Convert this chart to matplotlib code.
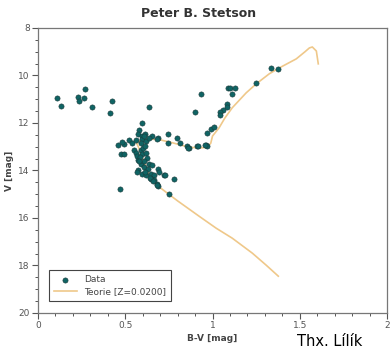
import matplotlib
matplotlib.use("Agg")
import matplotlib.pyplot as plt
from matplotlib.ticker import MultipleLocator

# Données (B-V, V)
bv_data = [0.109, 0.132, 0.230, 0.236, 0.264, 0.270, 0.310, 0.425, 0.414, 0.638,
           0.935, 0.901, 1.090, 1.102, 1.130, 1.113, 1.084, 1.084, 1.061, 1.044, 1.044,
           1.251, 1.337, 1.377,
           0.597, 0.579, 0.574, 0.614, 0.597, 0.654, 0.688, 0.746, 0.797, 0.815, 0.746,
           0.855, 0.866, 0.912, 0.964, 0.970, 0.970, 0.993, 1.010,
           0.459, 0.493, 0.482, 0.522, 0.539, 0.562, 0.597, 0.591, 0.620, 0.608,
           0.476, 0.493, 0.551, 0.562, 0.568, 0.591, 0.597, 0.620, 0.625,
           0.574, 0.591, 0.608, 0.637, 0.654, 0.688, 0.574, 0.597, 0.620, 0.648, 0.666,
           0.694, 0.723, 0.648, 0.666, 0.683, 0.688, 0.780, 0.470, 0.752, 0.729, 0.568,
           0.683, 0.861, 0.918, 0.958, 0.637, 0.683,
           0.585, 0.605, 0.630, 0.600, 0.615, 0.640, 0.660, 0.580, 0.612]
v_data = [10.94, 11.27, 10.90, 11.06, 10.94, 10.56, 11.31, 11.06, 11.57, 11.31,
          10.77, 11.52, 10.52, 10.52, 10.52, 10.77, 11.19, 11.31, 11.44, 11.52, 11.65,
          10.31, 9.68, 9.72,
          11.99, 12.28, 12.45, 12.45, 12.53, 12.53, 12.62, 12.45, 12.62, 12.83, 12.83,
          12.99, 13.04, 12.95, 12.91, 12.95, 12.41, 12.24, 12.15,
          12.91, 12.87, 12.78, 12.70, 12.83, 12.70, 12.66, 12.83, 12.74, 12.53,
          13.29, 13.29, 13.12, 13.25, 13.37, 13.12, 13.29, 13.25, 13.46,
          13.54, 13.71, 13.58, 13.71, 13.75, 13.92, 14.00, 14.13, 14.17, 14.13, 14.21,
          14.08, 14.21, 14.34, 14.42, 14.55, 14.67, 14.34, 14.76, 15.01, 14.21, 14.08,
          14.63, 13.04, 12.99, 12.91, 12.62, 12.66,
          13.45, 13.85, 13.95, 13.05, 12.95, 14.30, 14.45, 13.60, 14.05]

# Isochrone théorique
bv_theo = [1.377, 1.308, 1.228, 1.113, 1.021, 0.924, 0.800, 0.683, 0.640, 0.610,
           0.590, 0.575, 0.565, 0.600, 0.694, 0.769, 0.866, 0.930, 0.970, 0.990,
           1.000, 1.038, 1.070, 1.113, 1.193, 1.251, 1.325, 1.383, 1.480, 1.530,
           1.555, 1.572, 1.595, 1.606]
v_theo = [18.45, 17.99, 17.48, 16.85, 16.43, 15.93, 15.28, 14.63, 14.20, 13.70,
          13.30, 13.00, 12.85, 12.66, 12.70, 12.83, 13.02, 13.05, 13.02, 12.85,
          12.55, 12.20, 11.80, 11.36, 10.73, 10.35, 9.93, 9.68, 9.30, 9.00,
          8.84, 8.80, 8.97, 9.51]

fig = plt.figure(figsize=(3.9, 3.49), dpi=100)
ax = fig.add_axes([0.0974, 0.1032, 0.895, 0.8166])

ligne, = ax.plot(bv_theo, v_theo, color='#efc88a', lw=1.2, label='Teorie [Z=0.0200]', zorder=2)
points = ax.scatter(bv_data, v_data, s=14, color='#0f6464', edgecolors='#1a3a3a', linewidths=0.4,
                    label='Data', zorder=3)

ax.set_xlim(0, 2)
ax.set_ylim(20, 8)
ax.xaxis.set_major_locator(MultipleLocator(0.5))
ax.xaxis.set_minor_locator(MultipleLocator(0.1))
ax.yaxis.set_major_locator(MultipleLocator(2))
ax.yaxis.set_minor_locator(MultipleLocator(0.5))
ax.set_xticks([0, 0.5, 1, 1.5, 2])
ax.set_xticklabels(['0', '0.5', '1', '1.5', '2'])
ax.tick_params(which='major', length=4, width=0.8, color='#555555', labelsize=6.5,
               labelcolor='#555555', pad=2)
ax.tick_params(which='minor', length=2.5, width=0.7, color='#555555')
for s in ax.spines.values():
    s.set_color('#777777')
    s.set_linewidth(0.9)

ax.set_xlabel('B-V [mag]', fontsize=6.5, fontweight='bold', color='#444444', labelpad=3)
ax.set_ylabel('V [mag]', fontsize=6.5, fontweight='bold', color='#444444', labelpad=3)
fig.text(0.508, 0.962, 'Peter B. Stetson', ha='center', va='center', fontsize=9,
         fontweight='bold', color='#333333')

leg = ax.legend([points, ligne], ['Data', 'Teorie [Z=0.0200]'], loc='lower left',
                bbox_to_anchor=(0.018, 0.025), fontsize=6.5,
                fancybox=False, edgecolor='#444444', framealpha=1, borderpad=0.6,
                handlelength=2.5, labelspacing=0.3)
leg.get_frame().set_linewidth(0.8)
for t in leg.get_texts():
    t.set_color('#444444')

fig.text(0.762, 0.008, 'Thx. Lílík', fontsize=10.5, color='black', ha='left', va='baseline')

fig.savefig('out.png', dpi=100)
